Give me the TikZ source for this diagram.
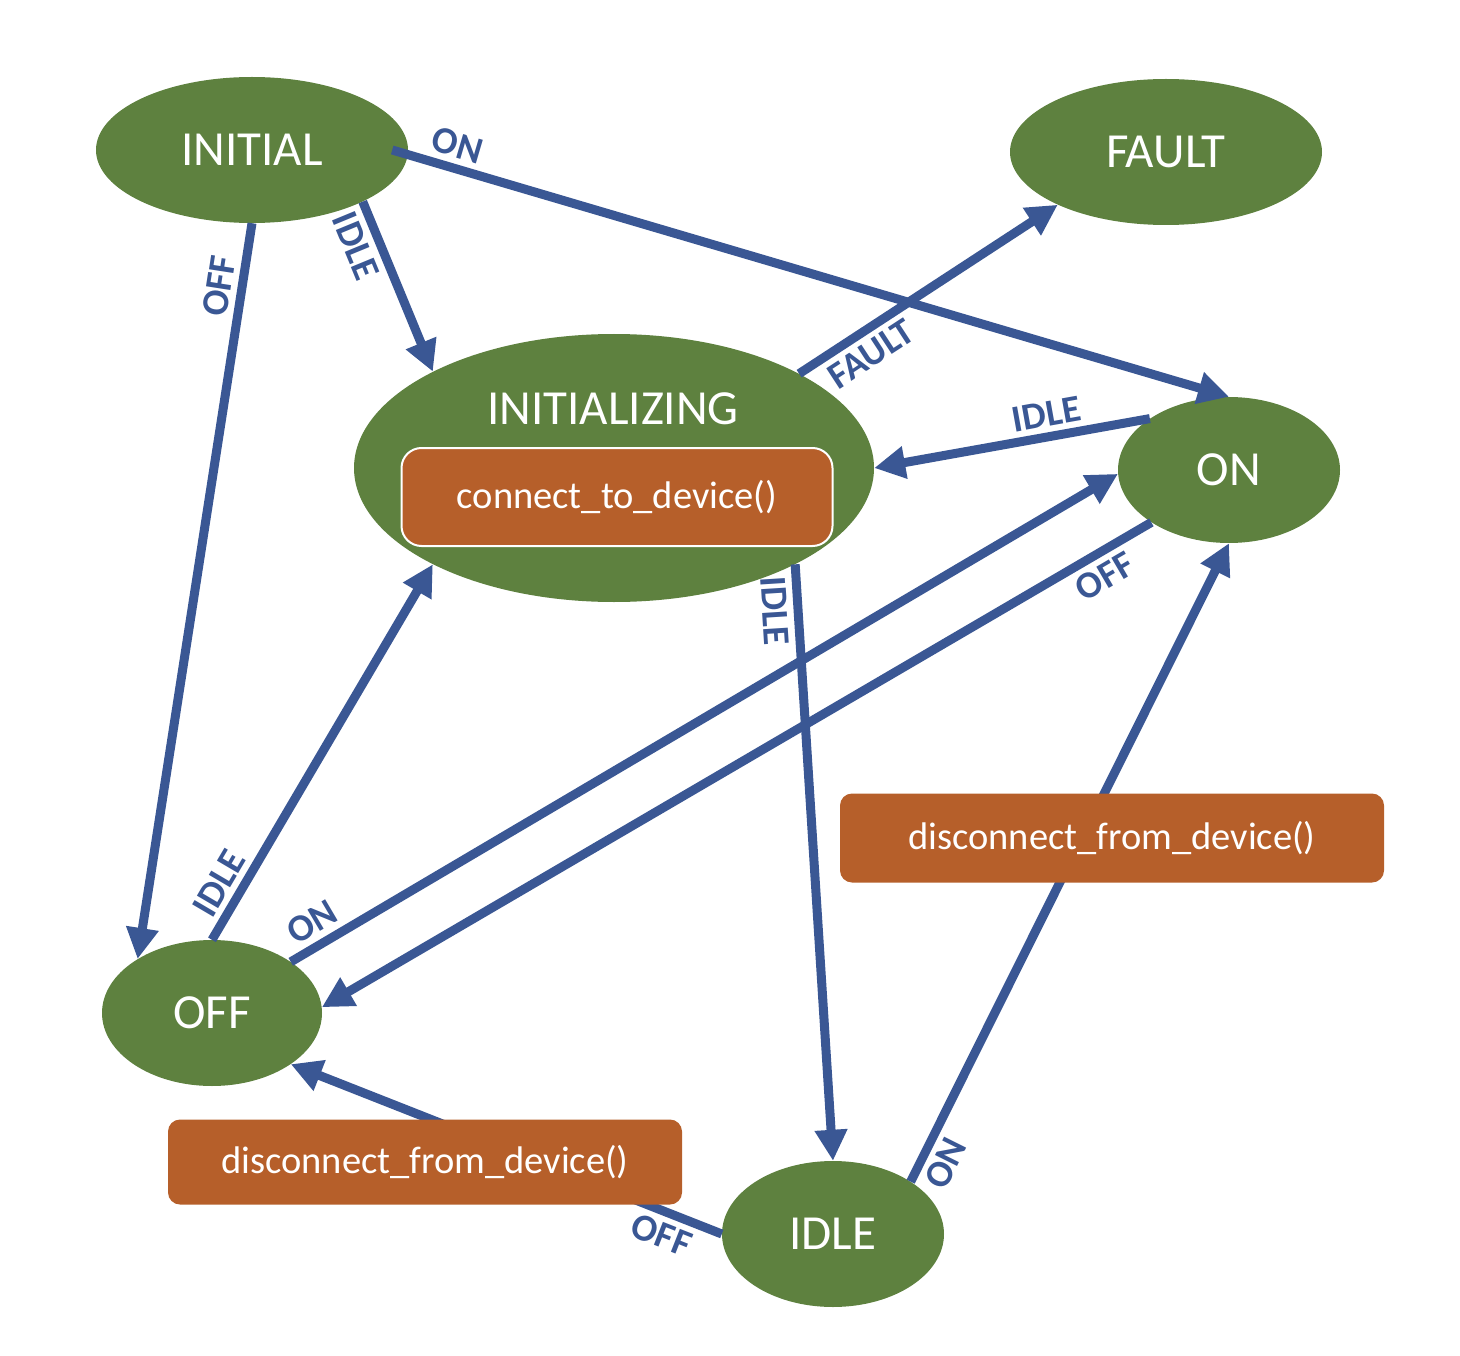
\documentclass[tikz,border=0pt]{standalone}
\usepackage{fontspec}
\setmainfont{Carlito}
\usetikzlibrary{positioning, arrows.meta, shapes.geometric}
\definecolor{stategreen}{HTML}{5E813F}
\definecolor{arrowblue}{HTML}{3A5794}
\definecolor{actionbrown}{HTML}{B65F2A}

\begin{document}
\begin{tikzpicture}[
        x=1pt, y=-1pt,
        status/.style={ellipse, fill=stategreen, text=white, inner sep=0pt, minimum width=#1, minimum height=146pt, font=\fontsize{49}{58}\selectfont},
        status/.default=222pt,
        action/.style={fill=actionbrown, text=white, inner sep=0pt, rounded corners=12pt, font=\fontsize{38.5}{46}\selectfont},
        trans/.style={draw=arrowblue, line width=9pt, -{Triangle[length=31pt, width=31pt]}},
        cond/.style={text=arrowblue, sloped, inner sep=6pt, font=\fontsize{38}{45}\selectfont\bfseries},
    ]
    \useasboundingbox (0,0) rectangle (1460,1356);

    % States
    \node[status=312pt] (initial) at (252,150) {INITIAL};
    \node[status=312pt] (fault) at (1166,152) {FAULT};
    \node[status=520pt, minimum height=268pt] (initializing) at (614,468) {};
    \node[text=white, font=\fontsize{49}{58}\selectfont] (initTitle) at (613,409) {INITIALIZING};
    \node[status] (on) at (1229,470) {ON};
    \node[status=220pt] (off) at (212,1013) {OFF};
    \node[status] (idle) at (833,1234) {IDLE};

    % Entry action
    \node[action, draw=white, line width=2pt, rounded corners=20pt, minimum width=431pt, minimum height=98pt] (connect) at (617,497) {connect\_to\_device()};

    % Transitions
    \draw[trans] ([xshift=-16pt]initial.east) -- (on.north) node[cond, pos=0.07, above] {ON};
    \draw[trans] (initial.south) -- (off.144.5) node[cond, pos=0.09, above] {OFF};
    \draw[trans] (initial.-25) -- (initializing.152) node[cond, pos=0.21, below] {IDLE};
    \draw[trans] (initializing.27) -- (fault.206) node[cond, pos=0.23, below] {FAULT};
    \draw[trans] (on.147) -- (initializing.east) node[cond, pos=0.36, above] {IDLE};
    \draw[trans] (off.33) -- (on.182) node[cond, pos=0.04, above] {ON};
    \draw[trans] (on.214) -- (off.3) node[cond, pos=0.07, below] {OFF};
    \draw[trans] (off.north) -- (initializing.208) node[cond, pos=0.12, above] {IDLE};
    \draw[trans] (initializing.-28) -- (idle.north) node[cond, pos=0.075, below] {IDLE};
    \draw[trans] (idle.34) -- (on.south) node[cond, pos=0.045, below] {ON};
    \draw[trans] (idle.west) -- (off.-33) node[cond, pos=0.12, below] {OFF};

    % Exit actions
    \node[action, minimum width=544pt, minimum height=89pt] (disconnectOn) at (1112,838) {disconnect\_from\_device()};
    \node[action, minimum width=514pt, minimum height=85pt] (disconnectIdle) at (425,1162) {disconnect\_from\_device()};

\end{tikzpicture}
\end{document}
